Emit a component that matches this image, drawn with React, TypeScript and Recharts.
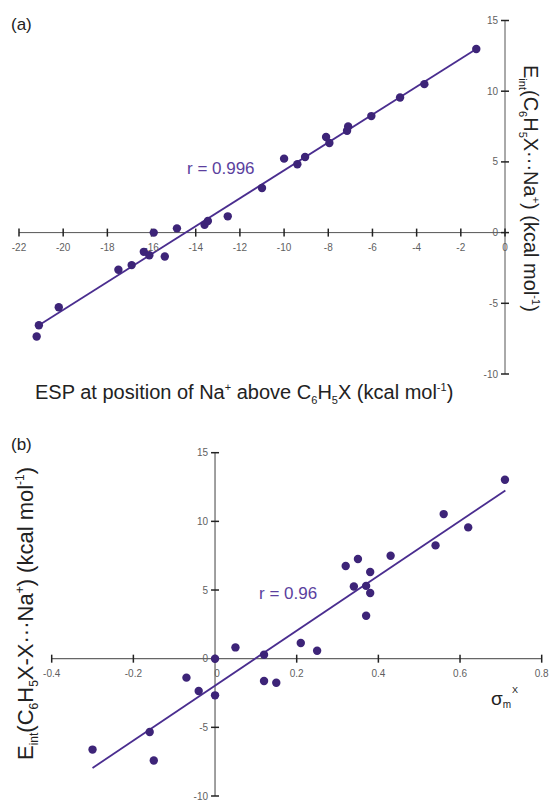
import React from 'react';
import { ComposedChart, Scatter, XAxis, YAxis, ReferenceLine, ReferenceDot } from 'recharts';

// panel (a): ESP vs interaction energy
const espA = [-21.2, -21.1, -20.2, -17.5, -16.9, -16.35, -16.1, -15.4, -15.9, -14.85, -13.6, -13.45, -12.55, -11.0, -10.0, -9.4, -9.05, -8.1, -7.95, -7.15, -7.1, -6.05, -4.75, -3.65, -1.3];
const eintA = [-7.35, -6.55, -5.28, -2.63, -2.3, -1.36, -1.6, -1.69, 0.0, 0.3, 0.55, 0.82, 1.15, 3.15, 5.23, 4.83, 5.35, 6.76, 6.34, 7.2, 7.5, 8.24, 9.55, 10.5, 12.98];
const fitAx = [-21.1, -1.3];
const fitAy = [-6.55, 12.98];

// panel (b): sigma_m vs interaction energy
const sigmaB = [-0.3, -0.16, -0.15, -0.07, -0.04, 0, 0, 0.05, 0.12, 0.12, 0.15, 0.21, 0.25, 0.37, 0.34, 0.37, 0.38, 0.71, 0.56, 0.62, 0.54, 0.43, 0.35, 0.32, 0.38];
const eintB = [-6.62, -5.34, -7.42, -1.38, -2.35, 0, -2.67, 0.82, 0.29, -1.63, -1.75, 1.14, 0.58, 3.13, 5.26, 5.3, 4.78, 13.03, 10.53, 9.56, 8.25, 7.5, 7.26, 6.75, 6.31];
const fitBx = [-0.3, 0.711];
const fitBy = [-7.96, 12.25];

const xTicksA = [-22, -20, -18, -16, -14, -12, -10, -8, -6, -4, -2, 0];
const xTicksB = [-0.4, -0.2, 0, 0.2, 0.4, 0.6, 0.8];
const xTickLabelsB = ['-0.4', '-0.2', '0', '0.2', '0.4', '0.6', '0.8'];
const yTicks = [-10, -5, 0, 5, 10, 15];

const DOT = '#3d2478';
const FIT = '#4a2d8f';
const RTXT = '#5b3f9e';
const TICKTXT = '#5f5f5f';

const dataA = espA.map((x, i) => ({ x, y: eintA[i] }));
const dataB = sigmaB.map((x, i) => ({ x, y: eintB[i] }));

const dot = (p: any) => <circle cx={p.cx} cy={p.cy} r={4.2} fill={DOT} />;

const xTick = (label: string, dx = 0) => (p: any) => (
  <g>
    <line x1={p.cx} x2={p.cx} y1={p.cy - 4} y2={p.cy + 4} stroke="#222" strokeWidth={1.5} />
    <text x={p.cx + dx} y={p.cy + 18.5} textAnchor="middle" fontSize={10} fill={TICKTXT}>{label}</text>
  </g>
);

const yTick = (label: string) => (p: any) => (
  <g>
    <line x1={p.cx - 4} x2={p.cx + 4} y1={p.cy} y2={p.cy} stroke="#222" strokeWidth={1.5} />
    <text x={p.cx - 7} y={p.cy + 3.5} textAnchor="end" fontSize={10} fill={TICKTXT}>{label}</text>
  </g>
);

export default function App() {
  return (
    <div style={{ position: 'absolute', left: 0, top: 0, width: 549, height: 800, background: '#fff', fontFamily: '"Liberation Sans", Arial, sans-serif' }}>
      <div style={{ position: 'absolute', left: 0, top: 0 }}>
        <ComposedChart width={549} height={400} margin={{ top: 20.5, right: 44, bottom: 26, left: 19 }}>
          <XAxis type="number" dataKey="x" domain={[-22, 0]} hide allowDataOverflow />
          <YAxis type="number" dataKey="y" domain={[-10, 15]} hide allowDataOverflow />
          <ReferenceLine y={0} stroke="#555" strokeWidth={1} ifOverflow="visible" />
          <ReferenceLine x={0} stroke="#555" strokeWidth={1} ifOverflow="visible" />
          {xTicksA.map((t) => (
            <ReferenceDot key={'xa' + t} x={t} y={0} ifOverflow="visible" shape={xTick(String(t))} />
          ))}
          {yTicks.map((t) => (
            <ReferenceDot key={'ya' + t} x={0} y={t} ifOverflow="visible" shape={yTick(String(t))} />
          ))}
          <ReferenceLine
            segment={[{ x: fitAx[0], y: fitAy[0] }, { x: fitAx[1], y: fitAy[1] }]}
            stroke={FIT}
            strokeWidth={1.8}
            ifOverflow="visible"
          />
          <Scatter data={dataA} shape={dot} isAnimationActive={false} />
        </ComposedChart>
      </div>
      <div style={{ position: 'absolute', left: 0, top: 400 }}>
        <ComposedChart width={549} height={400} margin={{ top: 52.7, right: 7.3, bottom: 4, left: 51.7 }}>
          <XAxis type="number" dataKey="x" domain={[-0.4, 0.8]} hide allowDataOverflow />
          <YAxis type="number" dataKey="y" domain={[-10, 15]} hide allowDataOverflow />
          <ReferenceLine y={0} stroke="#666" strokeWidth={1.2} ifOverflow="visible" />
          <ReferenceLine x={0} stroke="#888" strokeWidth={1.6} ifOverflow="visible" />
          {xTicksB.map((t, i) => (
            <ReferenceDot key={'xb' + t} x={t} y={0} ifOverflow="visible" shape={xTick(xTickLabelsB[i], t === 0 ? 2 : 0)} />
          ))}
          {yTicks.map((t) => (
            <ReferenceDot key={'yb' + t} x={0} y={t} ifOverflow="visible" shape={yTick(String(t))} />
          ))}
          <ReferenceLine
            segment={[{ x: fitBx[0], y: fitBy[0] }, { x: fitBx[1], y: fitBy[1] }]}
            stroke={FIT}
            strokeWidth={1.8}
            ifOverflow="visible"
          />
          <Scatter data={dataB} shape={dot} isAnimationActive={false} />
        </ComposedChart>
      </div>
      <svg width={549} height={800} style={{ position: 'absolute', left: 0, top: 0, pointerEvents: 'none' }}>
        <text x={11} y={30} fontSize={17} fill="#222">(a)</text>
        <text x={187} y={174} fontSize={17} fill={RTXT}>r = 0.996</text>
        <text transform="translate(524,65) rotate(90)" fontSize={20} fill="#222">
          <tspan>E</tspan>
          <tspan fontSize={11} dy={5}>int</tspan>
          <tspan dy={-5}>(C</tspan>
          <tspan fontSize={11} dy={5}>6</tspan>
          <tspan dy={-5}>H</tspan>
          <tspan fontSize={11} dy={5}>5</tspan>
          <tspan dy={-5}>X···Na</tspan>
          <tspan fontSize={11} dy={-8}>+</tspan>
          <tspan dy={8}>) (kcal mol</tspan>
          <tspan fontSize={11} dy={-8}>-1</tspan>
          <tspan dy={8}>)</tspan>
        </text>
        <text x={35} y={399} fontSize={20} fill="#222">
          <tspan>ESP at position of Na</tspan>
          <tspan fontSize={11} dy={-8}>+</tspan>
          <tspan dy={8}> above C</tspan>
          <tspan fontSize={11} dy={5}>6</tspan>
          <tspan dy={-5}>H</tspan>
          <tspan fontSize={11} dy={5}>5</tspan>
          <tspan dy={-5}>X (kcal mol</tspan>
          <tspan fontSize={11} dy={-8}>-1</tspan>
          <tspan dy={8}>)</tspan>
        </text>
        <text x={11} y={450} fontSize={17} fill="#222">(b)</text>
        <text x={259} y={599} fontSize={17} fill={RTXT}>r = 0.96</text>
        <text transform="translate(33,760) rotate(-90)" fontSize={22} fill="#222">
          <tspan>E</tspan>
          <tspan fontSize={12} dy={5}>int</tspan>
          <tspan dy={-5}>(C</tspan>
          <tspan fontSize={12} dy={5}>6</tspan>
          <tspan dy={-5}>H</tspan>
          <tspan fontSize={12} dy={5}>5</tspan>
          <tspan dy={-5}>X-X···Na</tspan>
          <tspan fontSize={12} dy={-9}>+</tspan>
          <tspan dy={9}>) (kcal mol</tspan>
          <tspan fontSize={12} dy={-9}>-1</tspan>
          <tspan dy={9}>)</tspan>
        </text>
        <text x={491} y={705} fontSize={19} fill="#222">
          <tspan>σ</tspan>
          <tspan fontSize={10} dy={3}>m</tspan>
        </text>
        <text x={512} y={693} fontSize={9} fill="#222">X</text>
      </svg>
    </div>
  );
}
